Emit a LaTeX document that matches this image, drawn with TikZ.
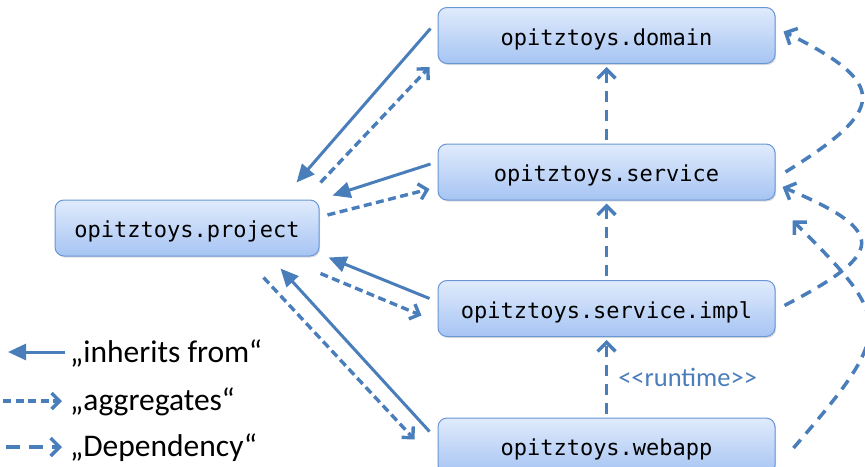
\documentclass[tikz,border=0pt]{standalone}
\usepackage{fontspec}
\setmonofont{DejaVu Sans Mono}
\newfontfamily\legendfont{Carlito}
\usetikzlibrary{arrows.meta,calc,shadows}
\definecolor{lineblue}{HTML}{4A7EBB}
\definecolor{boxtop}{HTML}{E0EBFC}
\definecolor{boxbot}{HTML}{A6C4F3}
\definecolor{boxline}{HTML}{6A96D4}
\tikzset{
  pkg/.style={draw=boxline, line width=1pt, rounded corners=9pt, top color=boxtop, bottom color=boxbot,
    minimum height=56pt, font=\ttfamily\fontsize{22}{24}\selectfont, inner sep=0pt,
    text height=19.5pt, text depth=0pt,
    drop shadow={shadow xshift=1.2pt, shadow yshift=-1.5pt, opacity=0.25}},
  inh/.style={draw=lineblue, line width=3pt, -{Triangle[length=18pt,width=16pt]}},
  agg/.style={draw=lineblue, line width=3.4pt, dash pattern=on 8pt off 4.5pt, -{Straight Barb[length=8pt,width=16pt]}},
  dep/.style={draw=lineblue, line width=3.5pt, dash pattern=on 11pt off 8pt, -{Straight Barb[length=9pt,width=18pt]}},
  legtext/.style={anchor=west, font=\legendfont\fontsize{31.5}{34}\selectfont, inner sep=0pt}
}
\begin{document}
\begin{tikzpicture}[x=1pt,y=-1pt]
\useasboundingbox (0,0) rectangle (865,466);
\clip (0,0) rectangle (865,466);

\node[pkg, minimum width=337pt] (domain) at (606.5,35.5) {opitztoys.domain};
\node[pkg, minimum width=337pt] (service) at (606.5,172) {opitztoys.service};
\node[pkg, minimum width=337pt] (impl) at (606.5,308.5) {opitztoys.service.impl};
\node[pkg, minimum width=337pt] (webapp) at (606.5,446) {opitztoys.webapp};
\node[pkg, minimum width=264pt] (project) at (187,228) {opitztoys.project};

% project <-> domain
\draw[inh] ($(domain.west)+(-7,-7)$) -- ($(project.north east)+(-23,-17)$);
\draw[agg] ($(project.north east)+(1,-17)$) -- ($(domain.south west)+(-8,3)$);
% project <-> service
\draw[inh] ($(service.west)+(-7,-8)$) -- ($(project.north east)+(13,-4)$);
\draw[agg] ($(project.east)+(8,-13)$) -- ($(service.west)+(-8,17)$);
% project <-> impl
\draw[inh] ($(impl.west)+(-8,-10)$) -- ($(project.south east)+(9,1)$);
\draw[agg] ($(project.south east)+(1,17)$) -- ($(impl.west)+(-16,7)$);
% project <-> webapp
\draw[inh] ($(webapp.north west)+(-8,14)$) -- ($(project.south east)+(-39,12)$);
\draw[agg] ($(project.south east)+(-56,21)$) -- ($(webapp.north west)+(-23,22)$);

% vertical dependencies
\draw[dep] ($(service.north)+(0,-4)$) -- ($(domain.south)+(0,3)$);
\draw[dep] ($(impl.north)+(0,-4)$) -- ($(service.south)+(0,3)$);
\draw[dep] ($(webapp.north)+(0,-4)$) -- node[right=10pt, yshift=-1pt, text=lineblue, font=\legendfont\fontsize{26.5}{28}\selectfont, inner sep=0pt] (rt) {<<runtime>>} ($(impl.south)+(0,3)$);

% right-hand curved dependencies
\draw[dep] ($(service.east)+(10,0)$) .. controls +(100,-62) and +(107,53) .. ($(domain.east)+(8,-4)$);
\draw[dep] ($(impl.east)+(9,-3)$) .. controls +(100,-52) and +(107,45) .. ($(service.east)+(7,15)$);
\draw[dep] ($(webapp.east)+(18,2)$) .. controls +(102,-118) and +(101,100) .. ($(service.south east)+(17,20)$);

% legend
\coordinate (l1a) at (65,352); \coordinate (l1b) at (8,352);
\coordinate (l2a) at (3,401);  \coordinate (l2b) at (62,401);
\coordinate (l3a) at (6,447);  \coordinate (l3b) at (62,447);
\draw[inh] (l1a) -- (l1b);
\draw[agg] (l2a) -- (l2b);
\draw[dep, dash pattern=on 14pt off 9pt] (l3a) -- (l3b);
\node[legtext] (t1) at (70,353) {„inherits from“};
\node[legtext] (t2) at (70,402) {„aggregates“};
\node[legtext] (t3) at (70,448) {„Dependency“};
\end{tikzpicture}
\end{document}
